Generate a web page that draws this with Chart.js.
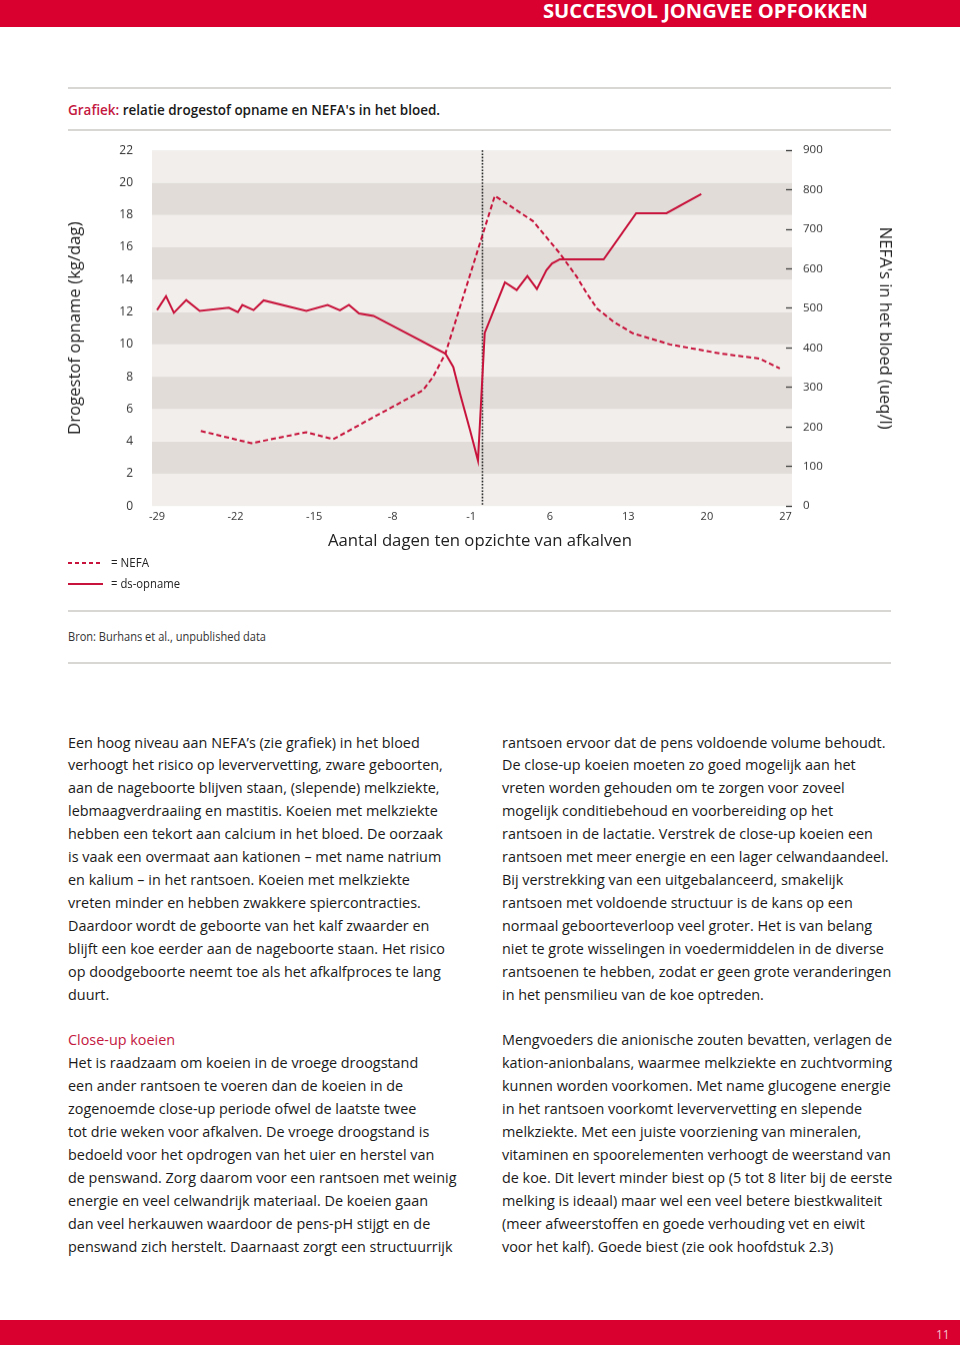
<!DOCTYPE html>
<html>
<head>
<meta charset="utf-8">
<script src="https://cdn.jsdelivr.net/npm/chart.js@4.4.1/dist/chart.umd.min.js"></script>
<style>
  body { margin: 0; width: 960px; height: 1345px; position: relative; overflow: hidden; background: #fff; font-family: "Open Sans", sans-serif; color: #1a1a1a; }
  .bar { position: absolute; left: 0; width: 960px; background: #d9002f; }
  .rule { position: absolute; left: 68px; width: 823px; height: 2px; background: #d9d7d3; }
  .txt { position: absolute; white-space: nowrap; line-height: 1; transform-origin: 0 50%; }
  .col { position: absolute; top: 731.5px; font-size: 14.4px; line-height: 22.92px; white-space: nowrap; color: #1a1a1a; }
  .rood { color: #c4183f; }
  #grafiek { position: absolute; left: 0; top: 135px; }
</style>
</head>
<body>

<div class="bar" style="top:0;height:27px"></div>
<div class="txt" data-w="325" style="left:543px;top:2px;font-size:19px;font-weight:700;color:#fff">SUCCESVOL JONGVEE OPFOKKEN</div>

<div class="rule" style="top:87px"></div>
<div class="txt" data-w="372" style="left:68px;top:103px;font-size:14.5px;font-weight:600"><span class="rood">Grafiek:</span> relatie drogestof opname en NEFA's in het bloed.</div>
<div class="rule" style="top:129px"></div>

<canvas id="grafiek" width="960" height="425"></canvas>

<div class="txt" style="left:328px;top:531.5px;font-size:16px;color:#222" data-w="304">Aantal dagen ten opzichte van afkalven</div>

<svg style="position:absolute;left:68px;top:558px" width="36" height="30">
  <line x1="0" y1="5" x2="35" y2="5" stroke="#c8143c" stroke-width="2" stroke-dasharray="4 3"/>
  <line x1="0" y1="26" x2="35" y2="26" stroke="#c8143c" stroke-width="2"/>
</svg>
<div class="txt" data-w="38" style="left:111px;top:557px;font-size:12px;color:#222">= NEFA</div>
<div class="txt" data-w="69" style="left:111px;top:578px;font-size:12px;color:#222">= ds-opname</div>

<div class="rule" style="top:610px"></div>
<div class="txt" data-w="198" style="left:68px;top:630.5px;font-size:12px;color:#333">Bron: Burhans et al., unpublished data</div>
<div class="rule" style="top:662px"></div>

<div class="col" style="left:68px">
Een hoog niveau aan NEFA’s (zie grafiek) in het bloed<br>
verhoogt het risico op leververvetting, zware geboorten,<br>
aan de nageboorte blijven staan, (slepende) melkziekte,<br>
lebmaagverdraaiing en mastitis. Koeien met melkziekte<br>
hebben een tekort aan calcium in het bloed. De oorzaak<br>
is vaak een overmaat aan kationen – met name natrium<br>
en kalium – in het rantsoen. Koeien met melkziekte<br>
vreten minder en hebben zwakkere spiercontracties.<br>
Daardoor wordt de geboorte van het kalf zwaarder en<br>
blijft een koe eerder aan de nageboorte staan. Het risico<br>
op doodgeboorte neemt toe als het afkalfproces te lang<br>
duurt.<br>
<br>
<span class="rood">Close-up koeien</span><br>
Het is raadzaam om koeien in de vroege droogstand<br>
een ander rantsoen te voeren dan de koeien in de<br>
zogenoemde close-up periode ofwel de laatste twee<br>
tot drie weken voor afkalven. De vroege droogstand is<br>
bedoeld voor het opdrogen van het uier en herstel van<br>
de penswand. Zorg daarom voor een rantsoen met weinig<br>
energie en veel celwandrijk materiaal. De koeien gaan<br>
dan veel herkauwen waardoor de pens-pH stijgt en de<br>
penswand zich herstelt. Daarnaast zorgt een structuurrijk
</div>

<div class="col" style="left:502px">
rantsoen ervoor dat de pens voldoende volume behoudt.<br>
De close-up koeien moeten zo goed mogelijk aan het<br>
vreten worden gehouden om te zorgen voor zoveel<br>
mogelijk conditiebehoud en voorbereiding op het<br>
rantsoen in de lactatie. Verstrek de close-up koeien een<br>
rantsoen met meer energie en een lager celwandaandeel.<br>
Bij verstrekking van een uitgebalanceerd, smakelijk<br>
rantsoen met voldoende structuur is de kans op een<br>
normaal geboorteverloop veel groter. Het is van belang<br>
niet te grote wisselingen in voedermiddelen in de diverse<br>
rantsoenen te hebben, zodat er geen grote veranderingen<br>
in het pensmilieu van de koe optreden.<br>
<br>
Mengvoeders die anionische zouten bevatten, verlagen de<br>
kation-anionbalans, waarmee melkziekte en zuchtvorming<br>
kunnen worden voorkomen. Met name glucogene energie<br>
in het rantsoen voorkomt leververvetting en slepende<br>
melkziekte. Met een juiste voorziening van mineralen,<br>
vitaminen en spoorelementen verhoogt de weerstand van<br>
de koe. Dit levert minder biest op (5 tot 8 liter bij de eerste<br>
melking is ideaal) maar wel een veel betere biestkwaliteit<br>
(meer afweerstoffen en goede verhouding vet en eiwit<br>
voor het kalf). Goede biest (zie ook hoofdstuk 2.3)
</div>

<div class="bar" style="top:1320px;height:25px"></div>
<div class="txt" style="left:936px;top:1329px;font-size:12px;color:#f3c3cc">11</div>

<script>
// dagen ten opzichte van afkalven (x) en waarden
const dsDagen = [-29, -28.2, -27.5, -26.4, -25.2, -22.6, -21.8, -21.4, -20.4, -19.5, -15.7, -13.8, -12.7, -11.9, -11.0, -9.7,
  -3.3, -2.6, -2.0, -1.1, -0.4, 0.2, 2.0, 3.05, 4.0, 4.85, 5.7, 6.2, 6.9, 10.8, 13.7, 16.4, 19.5];
const dsOpname = [12.12, 12.98, 11.95, 12.74, 12.07, 12.26, 11.99, 12.43, 12.12, 12.72, 12.07, 12.44, 12.10, 12.44, 11.91, 11.76,
  9.43, 8.60, 6.95, 4.68, 2.82, 10.71, 13.83, 13.36, 14.22, 13.42, 14.59, 15.0, 15.26, 15.26, 18.11, 18.11, 19.29];

const nefaDagen = [-25.1, -20.6, -15.7, -13.3, -9.7, -5.3, -4.4, -3.3, 1.1, 4.5, 6.9, 8.4, 9.3, 10.2, 11.7, 13.4, 16.7, 21.2, 24.7, 26.5];
const nefa = [190, 159, 187, 169, 225, 293, 327, 386, 785, 721, 639, 580, 538, 500, 466, 437, 409, 386, 373, 348];

const xTicks = [-29, -22, -15, -8, -1, 6, 13, 20, 27];

const rood = '#c8143c';
const bandLicht = '#f1eeeb';
const bandDonker = '#e1dcd8';
const plotTop = 15.5;      // bovenkant plotgebied binnen het canvas
const canvasTop = 135;
const canvasHoogte = 425;

Chart.defaults.font.family = '"Open Sans", sans-serif';

// achtergrondbanden per 2 kg/dag en de stippellijn bij het afkalven
const banden = {
  id: 'banden',
  beforeDraw(chart) {
    const { ctx, chartArea } = chart;
    const y = chart.scales.y;
    ctx.save();
    for (let v = 0; v < 22; v += 2) {
      const top = y.getPixelForValue(v + 2);
      const bottom = y.getPixelForValue(v);
      ctx.fillStyle = (v / 2) % 2 === 1 ? bandDonker : bandLicht;
      ctx.fillRect(chartArea.left, top, chartArea.right + 6 - chartArea.left, bottom - top);
    }
    ctx.restore();
  },
  beforeDatasetsDraw(chart) {
    const { ctx, chartArea } = chart;
    const x0 = chart.scales.x.getPixelForValue(0);
    ctx.save();
    ctx.strokeStyle = '#222';
    ctx.lineWidth = 1.6;
    ctx.setLineDash([1.6, 1.6]);
    ctx.beginPath();
    ctx.moveTo(x0, chartArea.top);
    ctx.lineTo(x0, chartArea.bottom);
    ctx.stroke();
    ctx.restore();
  }
};

const canvas = document.getElementById('grafiek');
const chart = new Chart(canvas, {
  type: 'line',
  data: {
    datasets: [
      {
        label: 'NEFA',
        data: nefaDagen.map((d, i) => ({ x: d, y: nefa[i] })),
        yAxisID: 'y2',
        borderColor: rood,
        borderWidth: 2,
        borderDash: [5, 3],
        pointRadius: 0,
        tension: 0
      },
      {
        label: 'ds-opname',
        data: dsDagen.map((d, i) => ({ x: d, y: dsOpname[i] })),
        yAxisID: 'y',
        borderColor: rood,
        borderWidth: 2,
        pointRadius: 0,
        tension: 0
      }
    ]
  },
  options: {
    responsive: false,
    maintainAspectRatio: false,
    animation: false,
    devicePixelRatio: 1,
    layout: { padding: { top: plotTop, left: 0, right: 0, bottom: 0 } },
    plugins: { legend: { display: false }, tooltip: { enabled: false } },
    scales: {
      x: {
        type: 'linear',
        min: -29.45,
        max: 27.05,
        afterBuildTicks: s => { s.ticks = xTicks.map(v => ({ value: v })); },
        afterFit: s => { s.height = 54.5; },
        grid: { display: false, drawTicks: false },
        border: { display: false },
        ticks: { padding: 4.5, color: '#333', font: { size: 11 }, autoSkip: false, maxRotation: 0 }
      },
      y: {
        position: 'left',
        min: 0,
        max: 22,
        afterFit: s => { s.width = 152; },
        grid: { display: false, drawTicks: false },
        border: { display: false },
        ticks: { stepSize: 2, padding: 19, color: '#333', font: { size: 12 } },
        title: { display: true, text: 'Drogestof opname (kg/dag)', color: '#222', font: { size: 16.7 }, padding: { top: 65 } }
      },
      y2: {
        position: 'right',
        min: 0,
        max: 900,
        afterFit: s => { s.width = 174; },
        grid: { drawOnChartArea: false, drawTicks: true, tickLength: 6, tickColor: '#444', tickWidth: 1.3 },
        border: { display: false },
        ticks: { stepSize: 100, padding: 11, color: '#333', font: { size: 11.5 } },
        title: { display: true, text: "NEFA's in het bloed (ueq/l)", color: '#222', font: { size: 16.5 }, padding: { top: 65 } }
      }
    }
  },
  plugins: [banden]
});

// Chart.js schuift het plotgebied iets omlaag; canvas verschuiven en verlengen
// zodat 22 kg/dag op paginahoogte 150.5 en 0 op 505.5 valt
const verschuiving = chart.scales.y.getPixelForValue(22) - plotTop;
if (Math.abs(verschuiving) > 0.2) {
  canvas.style.top = (canvasTop - verschuiving) + 'px';
  chart.resize(960, canvasHoogte + verschuiving);
}

// smalle letters: tekst horizontaal op de gemeten breedte brengen
document.querySelectorAll('[data-w]').forEach(el => {
  const w = el.getBoundingClientRect().width;
  el.style.transform = 'scaleX(' + (Number(el.dataset.w) / w) + ')';
});
</script>
</body>
</html>
